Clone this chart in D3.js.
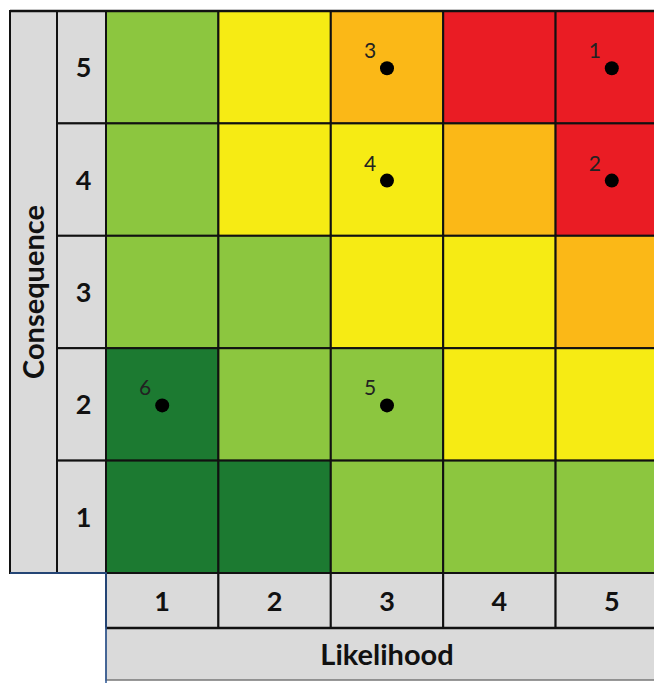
<!DOCTYPE html>
<html>
<head>
<meta charset="utf-8">
<script src="https://d3js.org/d3.v7.min.js"></script>
<style>
  body { margin: 0; background: #fff; }
  text { font-family: Lato, "Open Sans", sans-serif; }
</style>
</head>
<body>
<svg id="matrix" width="654" height="683"></svg>
<script>
// axis categories
const likelihood = [1, 2, 3, 4, 5];
const consequence = [5, 4, 3, 2, 1];

// rating of each cell, one row per consequence (5 at top), columns = likelihood 1..5
const ratingRows = [
  ["low", "medium", "high", "extreme", "extreme"],
  ["low", "medium", "medium", "high", "extreme"],
  ["low", "low", "medium", "medium", "high"],
  ["minimal", "low", "low", "medium", "medium"],
  ["minimal", "minimal", "low", "low", "low"]
];
const ratingNames = ["minimal", "low", "medium", "high", "extreme"];
const ratingColors = ["#1c7a31", "#8cc63f", "#f6eb14", "#fbb817", "#ea1c24"];

// plotted risks
const riskIds = [1, 2, 3, 4, 5, 6];
const riskLikelihood = [5, 5, 3, 3, 3, 1];
const riskConsequence = [5, 4, 5, 4, 2, 2];

const svg = d3.select("#matrix");
const headFill = "#dadada";

// scales for the grid
const x = d3.scaleBand().domain(likelihood).range([106, 668]);
const y = d3.scaleBand().domain(consequence).range([11, 573]);
const color = d3.scaleOrdinal().domain(ratingNames).range(ratingColors);

const cells = [];
consequence.forEach((c, i) => {
  likelihood.forEach((l, j) => cells.push({ l: l, c: c, rating: ratingRows[i][j] }));
});

// coloured cells
svg.append("g").selectAll("rect").data(cells).join("rect")
  .attr("x", d => x(d.l)).attr("y", d => y(d.c))
  .attr("width", x.bandwidth()).attr("height", y.bandwidth())
  .attr("fill", d => color(d.rating))
  .attr("stroke", "#111").attr("stroke-width", 2);

// "Consequence" side column
const sideX0 = 10, sideX1 = 57;
svg.append("rect")
  .attr("x", sideX0).attr("y", y.range()[0])
  .attr("width", sideX1 - sideX0).attr("height", y.range()[1] - y.range()[0])
  .attr("fill", headFill).attr("stroke", "#111").attr("stroke-width", 2);
svg.append("text")
  .attr("transform", `translate(${(sideX0 + sideX1) / 2 + 10},${(y.range()[0] + y.range()[1]) / 2}) rotate(-90)`)
  .attr("text-anchor", "middle")
  .attr("font-size", 29).attr("font-weight", 700).attr("fill", "#111")
  .text("Consequence");

// consequence numbers
const rowNum = svg.append("g");
rowNum.selectAll("rect").data(consequence).join("rect")
  .attr("x", sideX1).attr("y", d => y(d))
  .attr("width", x.range()[0] - sideX1).attr("height", y.bandwidth())
  .attr("fill", headFill).attr("stroke", "#111").attr("stroke-width", 2);
rowNum.selectAll("text").data(consequence).join("text")
  .attr("x", (sideX1 + x.range()[0]) / 2 + 2)
  .attr("y", d => y(d) + y.bandwidth() / 2 + 10)
  .attr("text-anchor", "middle")
  .attr("font-size", 27).attr("font-weight", 700).attr("fill", "#111")
  .text(d => d);

// likelihood numbers
const numY0 = y.range()[1], numY1 = 628, labY1 = 680;
const colNum = svg.append("g");
colNum.selectAll("rect").data(likelihood).join("rect")
  .attr("x", d => x(d)).attr("y", numY0)
  .attr("width", x.bandwidth()).attr("height", numY1 - numY0)
  .attr("fill", headFill).attr("stroke", "#111").attr("stroke-width", 2);
colNum.selectAll("text").data(likelihood).join("text")
  .attr("x", d => x(d) + x.bandwidth() / 2)
  .attr("y", (numY0 + numY1) / 2 + 10)
  .attr("text-anchor", "middle")
  .attr("font-size", 27).attr("font-weight", 700).attr("fill", "#111")
  .text(d => d);

// "Likelihood" row
svg.append("rect")
  .attr("x", x.range()[0]).attr("y", numY1)
  .attr("width", x.range()[1] - x.range()[0]).attr("height", labY1 - numY1)
  .attr("fill", headFill).attr("stroke", "#777").attr("stroke-width", 1.5);
svg.append("line")
  .attr("x1", x.range()[0]).attr("x2", x.range()[1])
  .attr("y1", numY1).attr("y2", numY1)
  .attr("stroke", "#111").attr("stroke-width", 2.5);
svg.append("text")
  .attr("x", x(3) + x.bandwidth() / 2).attr("y", (numY1 + labY1) / 2 + 11)
  .attr("text-anchor", "middle")
  .attr("font-size", 29).attr("font-weight", 700).attr("fill", "#111")
  .text("Likelihood");

// blue selection edges
svg.append("path")
  .attr("d", `M${sideX0},${numY0}H${x.range()[0]}V683`)
  .attr("fill", "none").attr("stroke", "#2b5797").attr("stroke-width", 1.5);

// top border
svg.append("line")
  .attr("x1", sideX0).attr("x2", 654).attr("y1", y.range()[0]).attr("y2", y.range()[0])
  .attr("stroke", "#111").attr("stroke-width", 2.5);

// risk points
const risks = riskIds.map((id, i) => ({ id: id, l: riskLikelihood[i], c: riskConsequence[i] }));
const pts = svg.append("g").selectAll("g").data(risks).join("g")
  .attr("transform", d => `translate(${x(d.l) + x.bandwidth() / 2},${y(d.c) + y.bandwidth() / 2 + 1})`);
pts.append("circle").attr("r", 7).attr("fill", "#000");
pts.append("text")
  .attr("x", -17).attr("y", -10)
  .attr("text-anchor", "middle")
  .attr("font-size", 21).attr("fill", "#222")
  .text(d => d.id);
</script>
</body>
</html>
